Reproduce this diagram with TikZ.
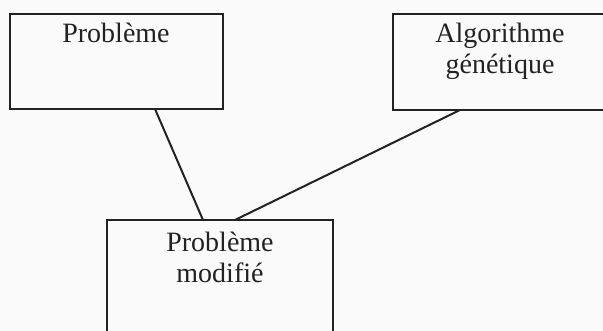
\documentclass[tikz,border=0pt]{standalone}
\usepackage{fontspec}
\setmainfont{Liberation Serif}
\usetikzlibrary{calc}
\definecolor{ink}{HTML}{222222}
\definecolor{paper}{HTML}{FAFAFA}
\begin{document}
\begin{tikzpicture}[x=1pt,y=-1pt,
  box/.style={draw=ink, line width=2pt, rectangle, inner sep=0pt, outer sep=0pt},
  label/.style={anchor=base, inner sep=0pt, text=ink,
    font=\fontsize{28}{31}\selectfont},
  link/.style={draw=ink, line width=2pt}]
  \fill[paper] (0,0) rectangle (603,331);
  \useasboundingbox (0,0) rectangle (603,331);
  \clip (0,0) rectangle (603,331);
  % boxes
  \node[box, minimum width=213pt, minimum height=95pt] (pb) at (116.5,61.5) {};
  \node[box, minimum width=247pt, minimum height=96pt] (ag) at (516.5,62) {};
  \node[box, minimum width=226pt, minimum height=160pt] (pm) at (220,300) {};
  % texts
  \node[label] (pbt) at (116,43) {Problème};
  \node[label] (agt1) at (500,43) {Algorithme};
  \node[label] (agt2) at (500,74) {génétique};
  \node[label] (pmt1) at (220,252) {Problème};
  \node[label] (pmt2) at (220,283) {modifié};
  % connectors
  \draw[link] ($(pb.south west)+(145,0)$) -- ($(pm.north west)+(96,0)$);
  \draw[link] ($(ag.south west)+(67,0)$) -- ($(pm.north west)+(128,0)$);
\end{tikzpicture}
\end{document}
